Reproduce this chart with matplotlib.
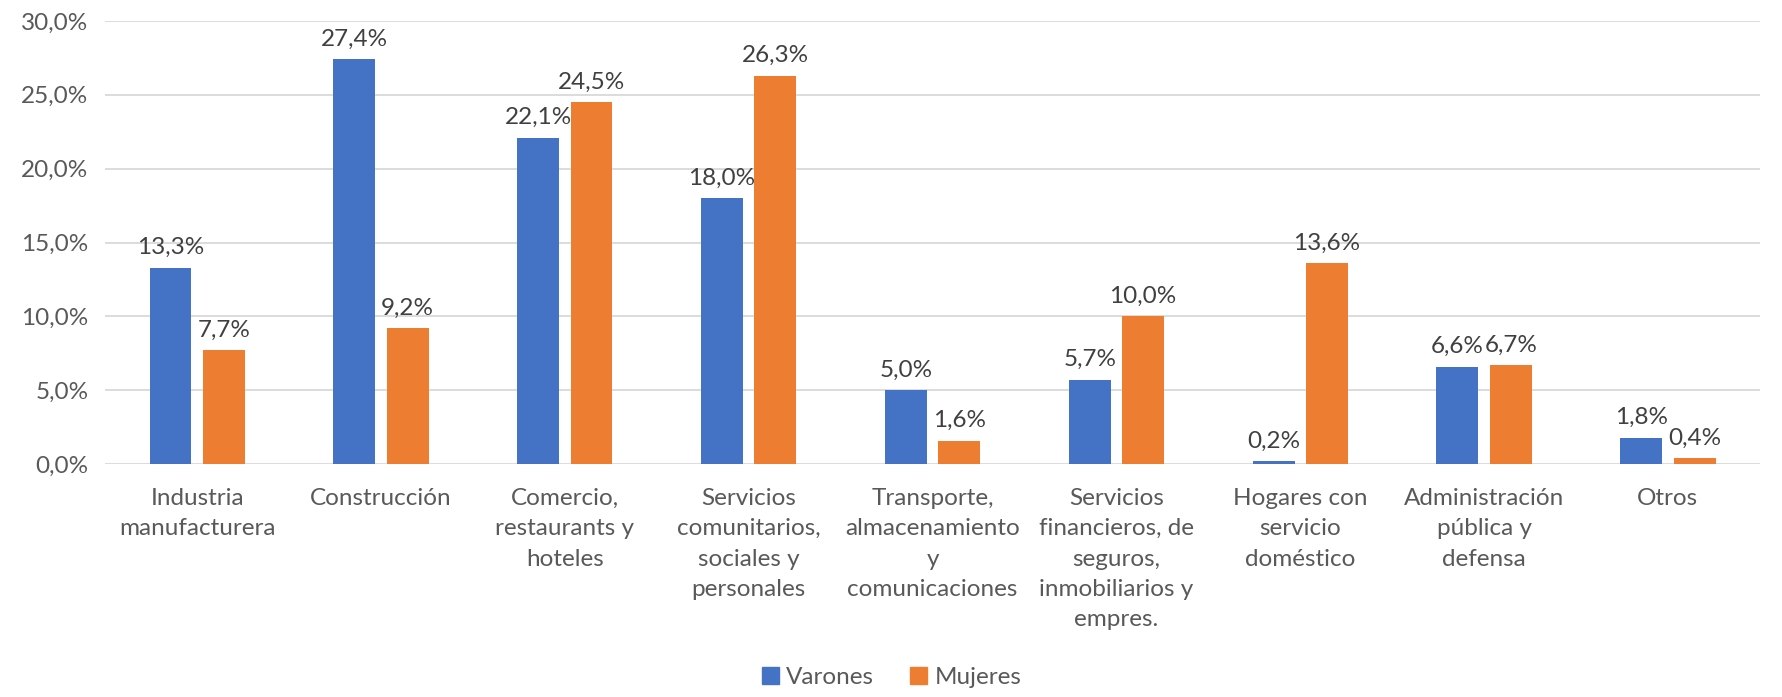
import matplotlib
matplotlib.use('Agg')
import numpy as np
import matplotlib.pyplot as plt
from matplotlib.patches import Patch

categories = [
    "Industria\nmanufacturera",
    "Construcción",
    "Comercio,\nrestaurants y\nhoteles",
    "Servicios\ncomunitarios,\nsociales y\npersonales",
    "Transporte,\nalmacenamiento\ny\ncomunicaciones",
    "Servicios\nfinancieros, de\nseguros,\ninmobiliarios y\nempres.",
    "Hogares con\nservicio\ndoméstico",
    "Administración\npública y\ndefensa",
    "Otros",
]
varones = [13.3, 27.4, 22.1, 18.0, 5.0, 5.7, 0.2, 6.6, 1.8]
mujeres = [7.7, 9.2, 24.5, 26.3, 1.6, 10.0, 13.6, 6.7, 0.4]
yticks = [0, 5, 10, 15, 20, 25, 30]

BLUE, ORANGE = "#4472C4", "#ED7D31"
TXT = "#595959"
FS = 17.5
plt.rcParams['font.family'] = ['Lato', 'DejaVu Sans']

fig = plt.figure(figsize=(17.83, 6.97), dpi=100)
ax = fig.add_axes([0.059, 0.334, 0.928, 0.636])

x = np.arange(len(categories))
w = 0.228
off = 0.145
b1 = ax.bar(x - off, varones, w, color=BLUE, zorder=2)
b2 = ax.bar(x + off, mujeres, w, color=ORANGE, zorder=2)

def fmt(v):
    return f"{v:.1f}%".replace(".", ",")

for bars, vals in ((b1, varones), (b2, mujeres)):
    for b, v in zip(bars, vals):
        ax.annotate(fmt(v), (b.get_x() + b.get_width() / 2, v), xytext=(0, 7),
                    textcoords="offset points", ha="center", va="bottom",
                    fontsize=FS, color="#404040")

ax.set_xlim(-0.5, len(categories) - 0.5)
ax.set_ylim(0, 30)
ax.set_yticks(yticks)
ax.set_yticklabels([fmt(t) for t in yticks], fontsize=FS, color=TXT)
ax.set_xticks(x)
ax.set_xticklabels(categories, fontsize=FS, color=TXT, linespacing=1.55, va="top")
ax.tick_params(length=0, pad=17, axis="x")
ax.tick_params(length=0, pad=12, axis="y")
ax.grid(axis="y", color="#D9D9D9", linewidth=1.3, zorder=0)
for s in ax.spines.values():
    s.set_visible(False)

handles = [Patch(color=BLUE, label="Varones"), Patch(color=ORANGE, label="Mujeres")]
fig.legend(handles=handles, loc="lower center", bbox_to_anchor=(0.5, -0.018), ncol=2,
           frameon=False, fontsize=FS, labelcolor=TXT, handlelength=0.7, handleheight=0.7,
           handletextpad=0.3, columnspacing=1.5)

fig.savefig("out.png", dpi=100)
